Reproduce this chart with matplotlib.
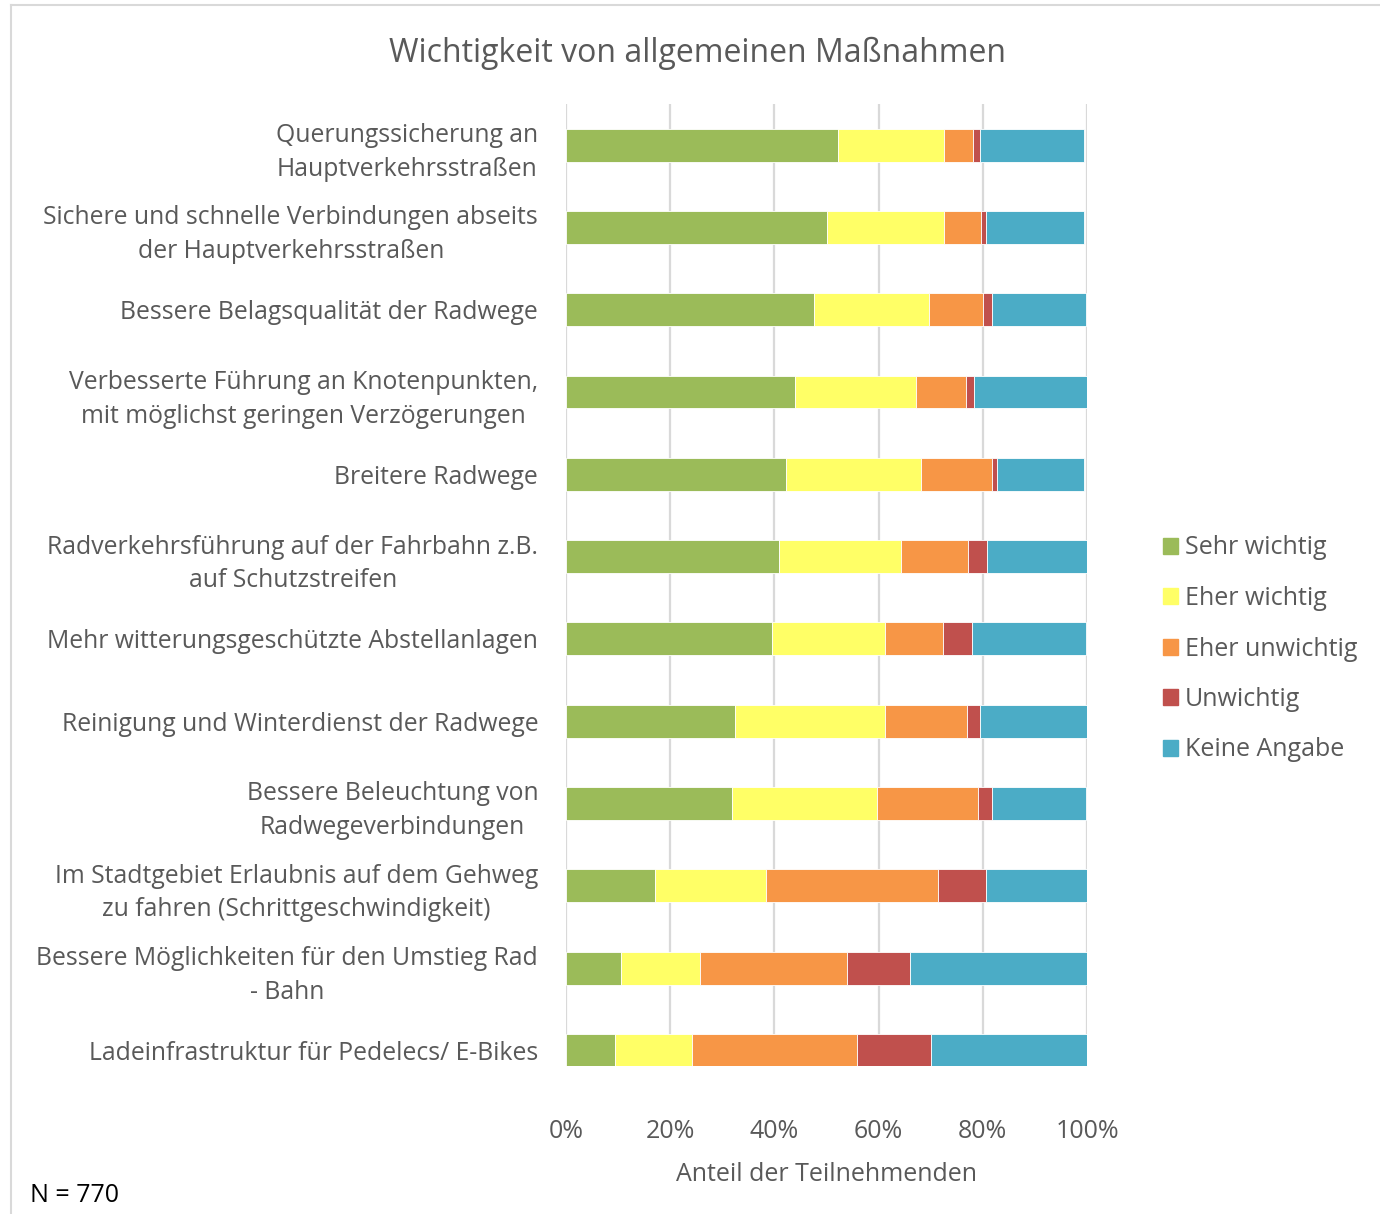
import matplotlib
matplotlib.use("Agg")
import matplotlib.pyplot as plt
from matplotlib.lines import Line2D
import numpy as np

categories = [
    "Querungssicherung an\nHauptverkehrsstraßen",
    "Sichere und schnelle Verbindungen abseits\nder Hauptverkehrsstraßen",
    "Bessere Belagsqualität der Radwege",
    "Verbesserte Führung an Knotenpunkten,\nmit möglichst geringen Verzögerungen",
    "Breitere Radwege",
    "Radverkehrsführung auf der Fahrbahn z.B.\nauf Schutzstreifen",
    "Mehr witterungsgeschützte Abstellanlagen",
    "Reinigung und Winterdienst der Radwege",
    "Bessere Beleuchtung von\nRadwegeverbindungen",
    "Im Stadtgebiet Erlaubnis auf dem Gehweg\nzu fahren (Schrittgeschwindigkeit)",
    "Bessere Möglichkeiten für den Umstieg Rad\n- Bahn",
    "Ladeinfrastruktur für Pedelecs/ E-Bikes",
]

series_names = ["Sehr wichtig", "Eher wichtig", "Eher unwichtig", "Unwichtig", "Keine Angabe"]
sehr_wichtig   = [52.3, 50.1, 47.6, 43.9, 42.2, 40.8, 39.6, 32.5, 31.8, 17.1, 10.6, 9.4]
eher_wichtig   = [20.3, 22.5, 22.1, 23.3, 26.0, 23.5, 21.6, 28.7, 27.9, 21.2, 15.2, 14.8]
eher_unwichtig = [5.5, 7.0, 10.4, 9.5, 13.5, 12.9, 11.1, 15.7, 19.4, 33.1, 28.2, 31.7]
unwichtig      = [1.4, 1.0, 1.6, 1.6, 1.0, 3.6, 5.6, 2.5, 2.6, 9.2, 12.1, 14.2]
keine_angabe   = [20.0, 18.9, 18.1, 21.9, 16.8, 19.4, 21.9, 20.8, 18.1, 19.6, 33.9, 29.9]

colors = ["#9BBB59", "#FFFF66", "#F79646", "#C0504D", "#4BACC6"]
xticks = [0, 20, 40, 60, 80, 100]
xtick_labels = ["0%", "20%", "40%", "60%", "80%", "100%"]

TXT = "#595959"
FONT = "Open Sans"
plt.rcParams["font.family"] = [FONT, "DejaVu Sans"]

fig = plt.figure(figsize=(13.8, 12.14), dpi=100)
W, H = 1380, 1214
ax = fig.add_axes([566 / W, 1 - 1066 / H, (1087 - 566) / W, (1066 - 104) / H])

data = [sehr_wichtig, eher_wichtig, eher_unwichtig, unwichtig, keine_angabe]
y = np.arange(len(categories))
left = np.zeros(len(categories))
for name, vals, c in zip(series_names, data, colors):
    vals = np.array(vals)
    ax.barh(y, vals, left=left, height=0.4, color=c, edgecolor="white",
            linewidth=0.6, label=name, zorder=3)
    left += vals

ax.set_xlim(0, 100)
ax.set_ylim(11.19, -0.5)
ax.set_xticks(xticks)
ax.set_xticklabels(xtick_labels, fontsize=18, color=TXT)
ax.set_yticks(y)
ax.set_yticklabels(categories, fontsize=17.8, color=TXT)
for lab in ax.get_yticklabels():
    lab.set_multialignment("center")
    lab.set_linespacing(1.45)
ax.tick_params(axis="both", length=0)
ax.tick_params(axis="y", pad=20)
ax.tick_params(axis="x", pad=38)
ax.grid(axis="x", color="#D9D9D9", linewidth=1.6, zorder=0)
ax.set_axisbelow(True)
for s in ax.spines.values():
    s.set_visible(False)

ax.set_xlabel("Anteil der Teilnehmenden", fontsize=18, color=TXT, labelpad=13)

fig.text(697 / W, 1 - 53 / H, "Wichtigkeit von allgemeinen Maßnahmen",
         fontsize=23, color=TXT, ha="center", va="center")
fig.text(30 / W, 1 - 1195 / H, "N = 770", fontsize=18, color="black",
         ha="left", va="center")

handles = [plt.Rectangle((0, 0), 1, 1, color=c) for c in colors]
leg = fig.legend(handles, series_names, loc="center left",
                 bbox_to_anchor=(1150 / W, 1 - 649 / H), frameon=False,
                 fontsize=18, handlelength=0.6, handleheight=0.6,
                 handletextpad=0.3, labelspacing=1.02, borderpad=0)
for t in leg.get_texts():
    t.set_color(TXT)

# chart frame
fig.add_artist(Line2D([11 / W, 11 / W], [0, 1 - 5 / H], transform=fig.transFigure,
                      color="#D9D9D9", linewidth=1.5))
fig.add_artist(Line2D([11 / W, 1], [1 - 5 / H, 1 - 5 / H], transform=fig.transFigure,
                      color="#D9D9D9", linewidth=1.5))

fig.savefig("out.png", dpi=100)
